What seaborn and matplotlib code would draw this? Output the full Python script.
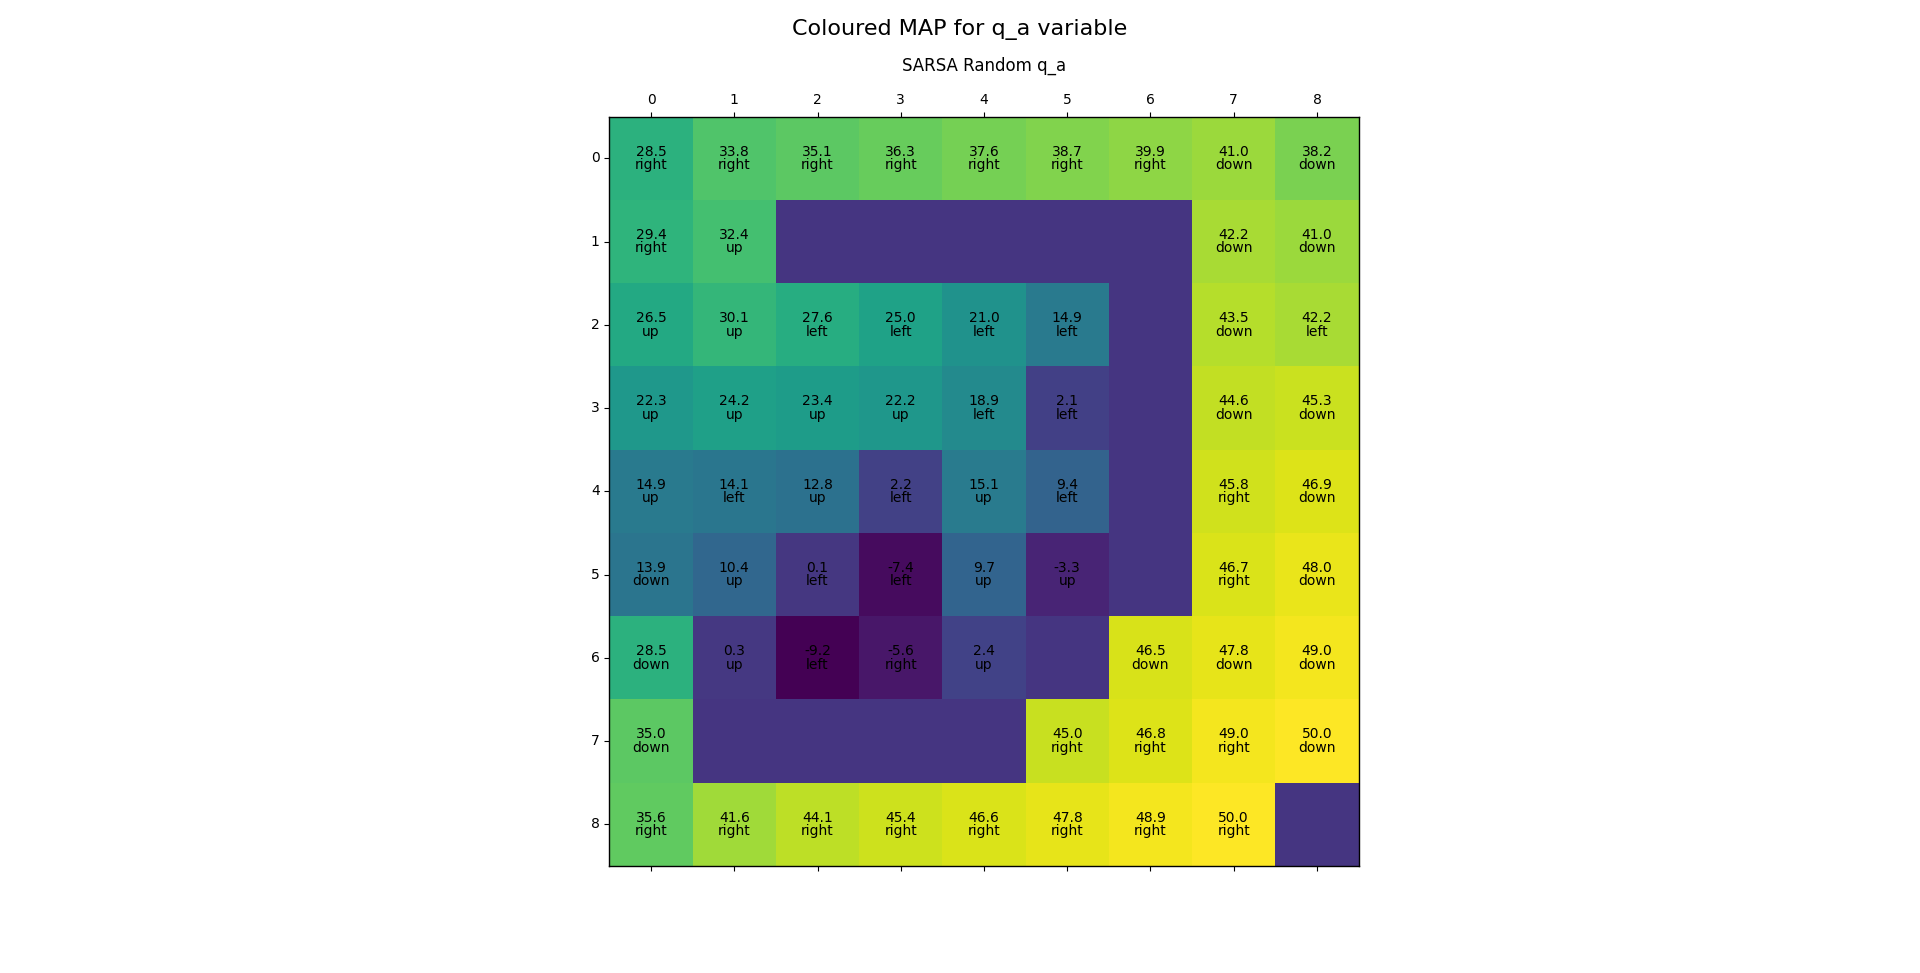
import matplotlib
matplotlib.use("Agg")
import matplotlib.pyplot as plt
import seaborn as sns
import numpy as np

# q_a values per cell (walls stored as 0 with no action)
q_values = [
    [28.5, 33.8, 35.1, 36.3, 37.6, 38.7, 39.9, 41.0, 38.2],
    [29.4, 32.4, 0, 0, 0, 0, 0, 42.2, 41.0],
    [26.5, 30.1, 27.6, 25.0, 21.0, 14.9, 0, 43.5, 42.2],
    [22.3, 24.2, 23.4, 22.2, 18.9, 2.1, 0, 44.6, 45.3],
    [14.9, 14.1, 12.8, 2.2, 15.1, 9.4, 0, 45.8, 46.9],
    [13.9, 10.4, 0.1, -7.4, 9.7, -3.3, 0, 46.7, 48.0],
    [28.5, 0.3, -9.2, -5.6, 2.4, 0, 46.5, 47.8, 49.0],
    [35.0, 0, 0, 0, 0, 45.0, 46.8, 49.0, 50.0],
    [35.6, 41.6, 44.1, 45.4, 46.6, 47.8, 48.9, 50.0, 0],
]
actions = [
    ["right", "right", "right", "right", "right", "right", "right", "down", "down"],
    ["right", "up", "", "", "", "", "", "down", "down"],
    ["up", "up", "left", "left", "left", "left", "", "down", "left"],
    ["up", "up", "up", "up", "left", "left", "", "down", "down"],
    ["up", "left", "up", "left", "up", "left", "", "right", "down"],
    ["down", "up", "left", "left", "up", "up", "", "right", "down"],
    ["down", "up", "left", "right", "up", "", "down", "down", "down"],
    ["down", "", "", "", "", "right", "right", "right", "down"],
    ["right", "right", "right", "right", "right", "right", "right", "right", ""],
]
ticks = list(range(9))

q = np.array(q_values)
labels = np.array([[f"{v:.1f}\n{a}" if a else "" for v, a in zip(rv, ra)]
                   for rv, ra in zip(q_values, actions)])

fig, ax = plt.subplots(figsize=(19.2, 9.73), dpi=100)
sns.heatmap(q, ax=ax, cmap="viridis", cbar=False, square=True,
            annot=labels, fmt="",
            annot_kws={"color": "black", "fontsize": 10, "linespacing": 0.95})

for s in ax.spines.values():
    s.set_visible(True)
    s.set_color("black")
    s.set_linewidth(1.0)

centers = np.array(ticks) + 0.5
ax.set_xticks(centers)
ax.set_xticklabels(ticks, rotation=0)
ax.set_yticks(centers)
ax.set_yticklabels(ticks, rotation=0)
ax.tick_params(axis="x", top=True, bottom=True, labeltop=True, labelbottom=False,
               length=3.5, width=0.8, labelsize=10)
ax.tick_params(axis="y", left=True, length=3.5, width=0.8, labelsize=10)

ax.set_title("SARSA Random q_a", fontsize=12, y=1.05)
fig.suptitle("Coloured MAP for q_a variable", fontsize=16, y=0.98)

plt.savefig("out.png", dpi=100)
